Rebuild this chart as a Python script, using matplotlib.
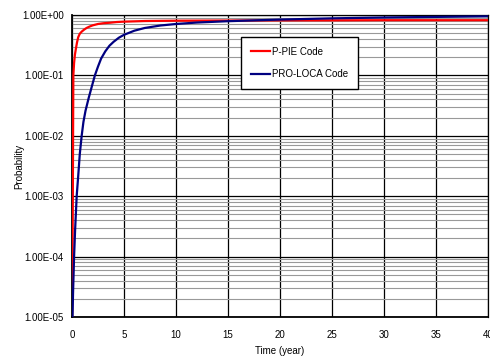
import matplotlib
matplotlib.use("Agg")
import matplotlib.pyplot as plt
import numpy as np
from matplotlib.ticker import FixedLocator, FixedFormatter, LogLocator, NullFormatter

plt.rcParams['font.family'] = ['Liberation Sans', 'DejaVu Sans']

# P-PIE Code (red)
ppie_t = [0.0, 0.04, 0.08, 0.11, 0.13, 0.2, 0.28, 0.38, 0.48, 0.6, 0.75, 0.93, 1.15, 1.4, 1.7,
          2.0, 2.5, 3.0, 3.65, 4.3, 4.9, 6.0, 7.0, 8.5, 10.0, 15.0, 20.0, 25.0, 30.0, 35.0, 40.0]
ppie_p = [1e-5, 1e-4, 1e-3, 0.02, 0.1, 0.16, 0.22, 0.28, 0.35, 0.43, 0.49, 0.53, 0.57, 0.61, 0.645,
          0.675, 0.71, 0.73, 0.745, 0.765, 0.775, 0.785, 0.795, 0.8, 0.805, 0.81, 0.815, 0.815, 0.82, 0.82, 0.82]

# PRO-LOCA Code (blue)
ploca_t = [0.05, 0.1, 0.2, 0.3, 0.45, 0.6, 0.75, 0.93, 1.1, 1.3, 1.6, 1.9, 2.2, 2.5, 2.8, 3.2, 3.6,
           4.0, 4.5, 5.0, 6.0, 7.0, 8.5, 10.0, 12.0, 15.0, 18.0, 20.0, 25.0, 30.0, 35.0, 40.0]
ploca_p = [1e-5, 2.5e-5, 1e-4, 2.8e-4, 1e-3, 2.2e-3, 5e-3, 0.01, 0.017, 0.026, 0.042, 0.065, 0.1, 0.14,
           0.19, 0.25, 0.31, 0.36, 0.42, 0.47, 0.55, 0.61, 0.67, 0.71, 0.75, 0.79, 0.82, 0.84, 0.88,
           0.91, 0.93, 0.95]

x_ticks = [0, 5, 10, 15, 20, 25, 30, 35, 40]
y_ticks = [1e-5, 1e-4, 1e-3, 1e-2, 1e-1, 1e0]
y_labels = ['1.00E-05', '1.00E-04', '1.00E-03', '1.00E-02', '1.00E-01', '1.00E+00']

fig = plt.figure(figsize=(4.9, 3.56), dpi=100)
ax = fig.add_axes([72/490, 1-317/356, 416/490, 302/356])

ax.set_yscale('log')
ax.set_xlim(0, 40)
ax.set_ylim(1e-5, 1)

ax.plot(ppie_t, ppie_p, color='#ff0000', lw=1.6, label='P-PIE Code', zorder=3)
ax.plot(ploca_t, ploca_p, color='#000080', lw=1.6, label='PRO-LOCA Code', zorder=3)

ax.xaxis.set_major_locator(FixedLocator(x_ticks))
ax.yaxis.set_major_locator(FixedLocator(y_ticks))
ax.yaxis.set_major_formatter(FixedFormatter(y_labels))
ax.yaxis.set_minor_locator(LogLocator(base=10, subs=np.arange(2, 10)))
ax.yaxis.set_minor_formatter(NullFormatter())

ax.grid(True, which='major', axis='both', color='black', lw=0.9)
ax.grid(True, which='minor', axis='y', color='#999999', lw=0.8)
ax.set_axisbelow(True)

ax.tick_params(axis='both', which='both', length=0, labelsize=7)
ax.tick_params(axis='x', pad=9)
ax.tick_params(axis='y', pad=6)

for s in ['left', 'bottom']:
    ax.spines[s].set_linewidth(1.3)
    ax.spines[s].set_color('black')
for s in ['top', 'right']:
    ax.spines[s].set_linewidth(0.9)
    ax.spines[s].set_color('black')

ax.set_xlabel('Time (year)', fontsize=7, labelpad=5)
ax.set_ylabel('Probability', fontsize=7, labelpad=-2)

leg = ax.legend(loc='upper left', bbox_to_anchor=(0.406, 0.927), fontsize=7,
                frameon=True, fancybox=False, shadow=False, framealpha=1,
                edgecolor='black', borderpad=1.0, labelspacing=1.25,
                handlelength=2.0, handletextpad=0.2, borderaxespad=0)
leg.get_frame().set_linewidth(1.0)
leg.set_zorder(5)

fig.savefig('out.png', dpi=100)
